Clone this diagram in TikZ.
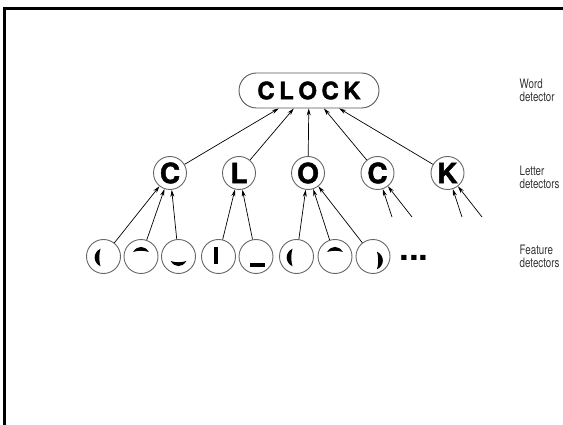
\documentclass[tikz,border=0pt]{standalone}
\usepackage{fontspec}
\setmainfont{TeX Gyre Heros}
\newfontfamily\narrowfont[FakeStretch=0.75]{TeX Gyre Heros}
\newfontfamily\heavyfont[FakeBold=1.6]{texgyreheros-bold.otf}
\usetikzlibrary{shapes.misc,arrows.meta}

\tikzset{
  % crescent bulging to the left (mirror with xscale=-1)
  vcres/.pic={\fill (-3,-8.8) .. controls (-10.8,-5) and (-10.8,5) .. (-3,8.8)
                    .. controls (-4.6,4) and (-4.6,-4) .. cycle;},
  % crescent bulging upwards (mirror with yscale=-1)
  hcres/.pic={\fill (-7.8,-4.5) .. controls (-4,-11.3) and (4,-11.3) .. (7.8,-4.5)
                    .. controls (3,-6.2) and (-3,-6.2) .. cycle;}
}

\begin{document}
\begin{tikzpicture}[x=1pt,y=-1pt,
  detector/.style={circle,draw=black!60,line width=0.9pt,minimum size=34pt,inner sep=0pt},
  letternode/.style={detector,minimum size=33pt,font=\heavyfont\fontsize{28}{28}\selectfont},
  featurenode/.style={detector},
  wordnode/.style={rounded rectangle,draw=black!65,line width=0.9pt,minimum width=140pt,
    minimum height=35pt,inner sep=0pt,font=\heavyfont\fontsize{24}{24}\selectfont},
  link/.style={-{Stealth[length=7pt,width=4pt]},line width=0.7pt,black},
  tag/.style={anchor=north west,align=left,inner sep=0pt,text=black!80,
    font=\narrowfont\fontsize{13}{13}\selectfont}
]
\useasboundingbox (0,0) rectangle (563,425);

% frame along the top and left edges
\draw[line width=3.3pt,line join=miter] (4.4,425) -- (4.4,8.4) -- (563,8.4);

% word detector
\node[wordnode] (word) at (309,90.5) {C\kern4.5pt L\kern4.5pt O\kern4.5pt C\kern4.5pt K};

% letter detectors
\node[letternode] (c1) at (170,173) {C};
\node[letternode] (l)  at (239,173) {L};
\node[letternode] (o)  at (308,173) {O};
\node[letternode] (c2) at (377.5,173) {C};
\node[letternode] (k)  at (447.5,173) {K};

% feature detectors
\node[featurenode] (f1) at (103.5,256.5) {};
\node[featurenode] (f2) at (141,256.5) {};
\node[featurenode] (f3) at (178.5,256.5) {};
\node[featurenode] (f4) at (218.5,256.5) {};
\node[featurenode] (f5) at (256,256.5) {};
\node[featurenode] (f6) at (296.5,256.5) {};
\node[featurenode] (f7) at (335,256.5) {};
\node[featurenode] (f8) at (373,256.5) {};
\node[font=\fontsize{35}{35}\selectfont\bfseries,anchor=base,inner sep=0pt] (more) at (414,260.3) {...};

% feature glyphs
\pic[shift={(0,1)}] at (f1) {vcres};
\pic at (f2) {hcres};
\pic[yscale=-1] at (f3) {hcres};
\fill ([shift={(-5,-9)}]f4.center) rectangle ++(4,17);
\fill ([shift={(-6,7)}]f5.center) rectangle ++(15,3.6);
\pic[shift={(-1,1)}] at (f6) {vcres};
\pic at (f7) {hcres};
\pic[xscale=-1,shift={(-1,4)}] at (f8) {vcres};

% letters feeding the word
\foreach \n in {c1,l,o,c2,k} \draw[link] (\n) -- (word);

% features feeding the letters
\draw[link] (f1) -- (c1);
\draw[link] (f2) -- (c1);
\draw[link] (f3) -- (c1);
\draw[link] (f4) -- (l);
\draw[link] (f5) -- (l);
\draw[link] (f6) -- (o);
\draw[link] (f7) -- (o);
\draw[link] (f8) -- (o);

% inputs from further features
\coordinate (c2a) at (392,217);
\coordinate (c2b) at (412,217);
\coordinate (ka)  at (462,217);
\coordinate (kb)  at (482,217);
\draw[link] (c2a) -- (c2);
\draw[link] (c2b) -- (c2);
\draw[link] (ka) -- (k);
\draw[link] (kb) -- (k);

% level captions
\node[tag] (wordtag)    at (519.5,79)  {Word\\detector};
\node[tag] (lettertag)  at (519.5,166) {Letter\\detectors};
\node[tag] (featuretag) at (519.5,245) {Feature\\detectors};
\end{tikzpicture}
\end{document}
